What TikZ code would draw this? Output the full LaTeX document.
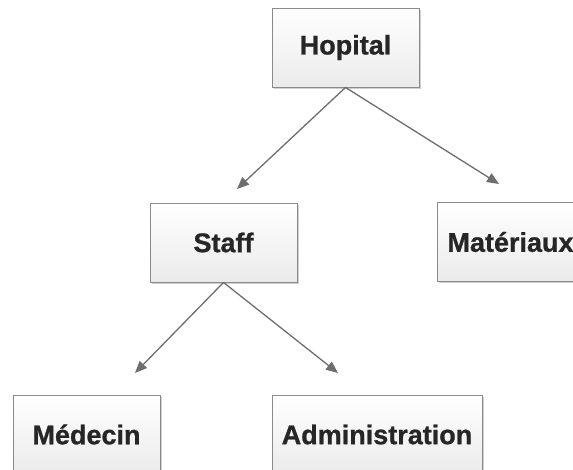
\documentclass[tikz,border=0pt]{standalone}
\usepackage{fontspec}
\setmainfont{Liberation Sans}
\newfontfamily\heavyfont{Liberation Sans Bold}[FakeBold=0.9]
\usetikzlibrary{arrows.meta,shadows}
\definecolor{boxline}{HTML}{8A8A8A}
\definecolor{linkgray}{HTML}{6E6E6E}
\definecolor{labeltext}{HTML}{262626}
\tikzset{
  orgbox/.style={draw=boxline, line width=0.9pt, rectangle,
    top color=white, bottom color=black!8,
    minimum height=79pt, minimum width=147pt, inner sep=0pt,
    font=\heavyfont\fontsize{27}{32}\selectfont, text=labeltext,
    drop shadow={shadow xshift=2pt, shadow yshift=-2pt, fill=black!30, opacity=0.6}},
  link/.style={draw=linkgray, line width=1.3pt,
    -{Triangle[length=12pt,width=10pt]}}
}
\begin{document}
\begin{tikzpicture}[x=1pt,y=-1pt]
  \useasboundingbox[fill=white] (0,0) rectangle (573,470);
  % boxes of the hierarchy
  \node[orgbox] (hop) at (345.5,47.5) {Hopital};
  \node[orgbox] (staff) at (223.5,242.5) {Staff};
  \node[orgbox] (mat) at (510.5,242) {Matériaux};
  \node[orgbox] (med) at (86.5,434.5) {Médecin};
  \node[orgbox, minimum width=210pt] (adm) at (377,434.5) {Administration};
  % arrow tips stop short of the boxes below
  \coordinate (toStaff) at (237,189);
  \coordinate (toMat) at (499,184);
  \coordinate (toMed) at (135,373);
  \coordinate (toAdm) at (338,373);
  \draw[link] (hop.south) -- (toStaff);
  \draw[link] (hop.south) -- (toMat);
  \draw[link] (staff.south) -- (toMed);
  \draw[link] (staff.south) -- (toAdm);
\end{tikzpicture}
\end{document}
